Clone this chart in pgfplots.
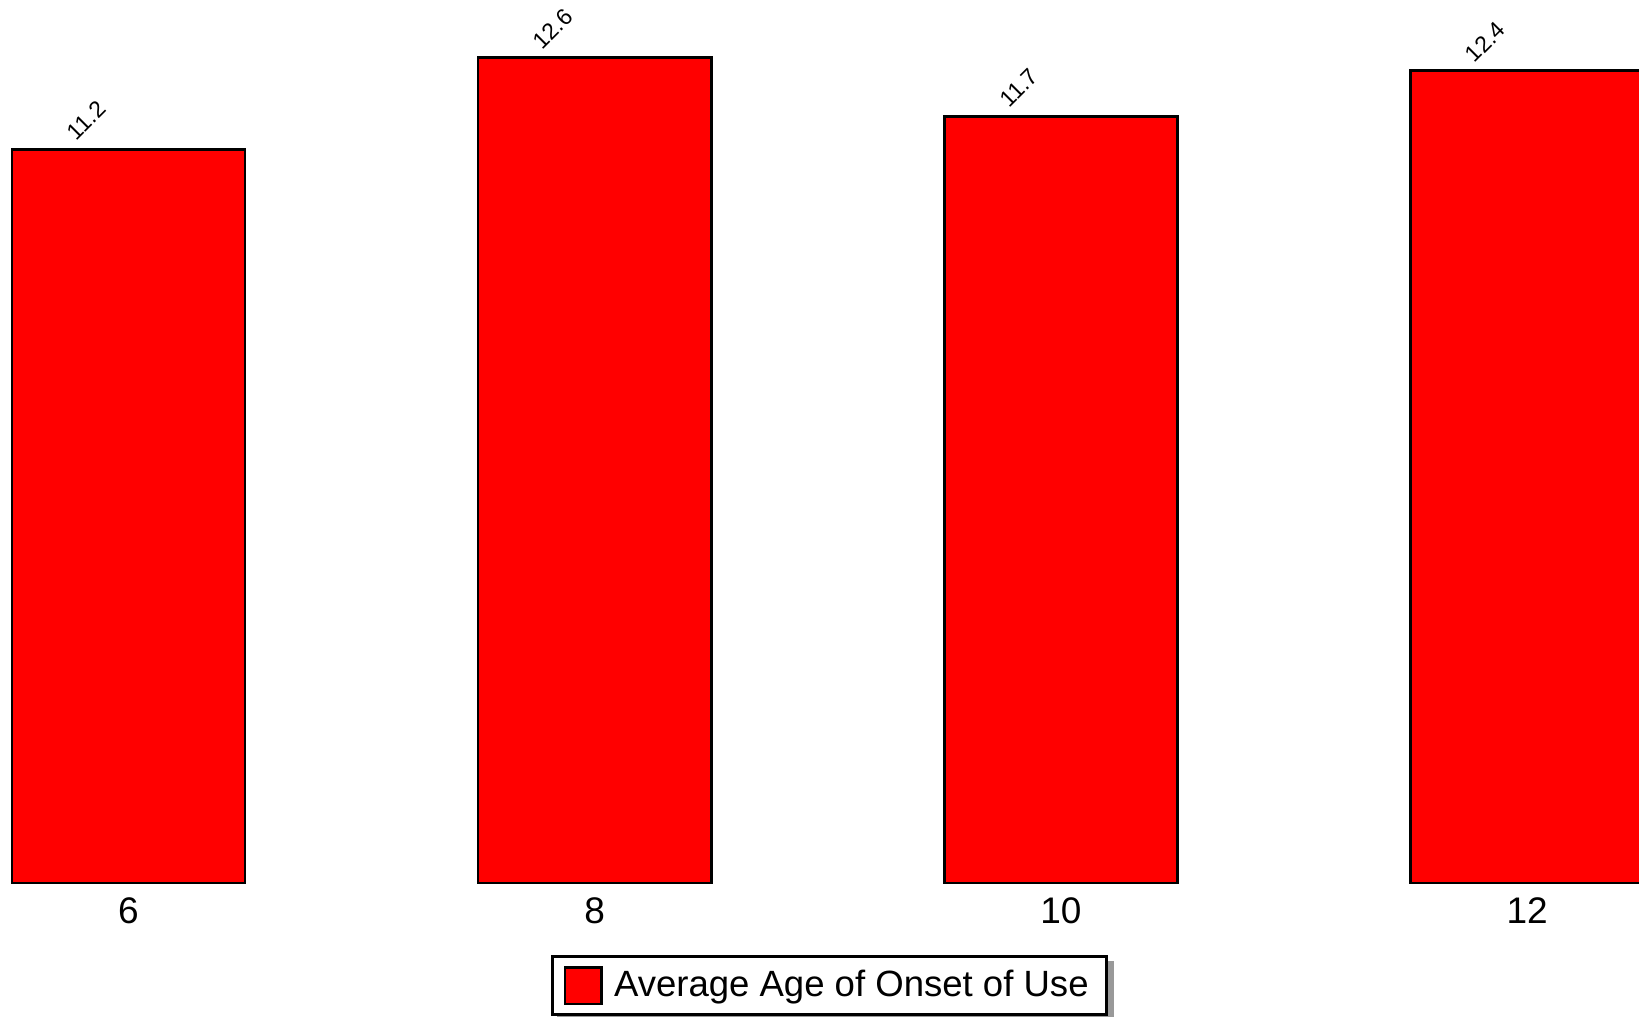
\documentclass[border=0pt]{standalone}
\usepackage{fontspec}
\setmainfont{Liberation Sans}
\usepackage{pgfplots}
\pgfplotsset{compat=1.18}
\usetikzlibrary{backgrounds}
\begin{document}
\begin{tikzpicture}
\pgfkeys{/pgf/number format/assume math mode=true}
\begin{axis}[
  name=ax,
  scale only axis,
  x=69.93pt, y=19.65pt,
  xmin=5.449, xmax=12.48,
  ymin=0, ymax=13.481,
  ybar, bar width=1,
  clip=true,
  axis line style={draw=none},
  major tick length=0pt,
  ytick=\empty,
  xtick={6,8,10,12},
  xticklabel style={font=\fontsize{11.1}{13}\selectfont, yshift=-1pt},
  nodes near coords,
  every node near coord/.append style={font=\fontsize{6.9}{8}\selectfont, anchor=center, xshift=-12.6pt, yshift=8.7pt, rotate=45},
  legend style={name=leg, at={(0.5061,-0.1161)}, anchor=center, draw=black, line width=0.8pt, fill=white,
    font=\fontsize{10.96}{13}\selectfont, inner xsep=3.3pt, inner ysep=2pt},
  legend image code/.code={\draw[fill=red, draw=black, line width=0.8pt] (0pt,-5.5pt) rectangle (10.9pt,5.5pt); \path (12.3pt,0pt);},
]
\addplot[fill=red, draw=black, line width=0.8pt] coordinates {(6,11.2) (8,12.6) (10,11.7) (12,12.4)};
\addlegendentry{Average Age of Onset of Use\hspace{1.2pt}}
\end{axis}
\begin{scope}[on background layer]
  \fill[gray!80] ([xshift=1.8pt,yshift=-1.8pt]leg.south west) rectangle ([xshift=1.8pt,yshift=-1.8pt]leg.north east);
\end{scope}
\pgfresetboundingbox
\useasboundingbox ([yshift=-39.9pt]ax.south west) rectangle (ax.north east);
\end{tikzpicture}
\end{document}
